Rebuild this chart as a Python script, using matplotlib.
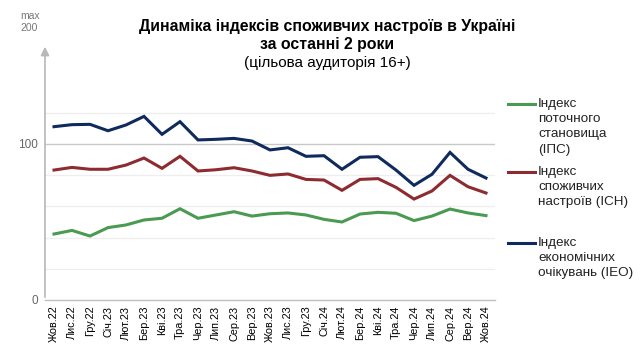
import matplotlib
matplotlib.use("Agg")
import matplotlib.pyplot as plt
from matplotlib.patches import FancyArrowPatch

months = ["Жов.22", "Лис.22", "Гру.22", "Січ.23", "Лют.23", "Бер.23", "Кві.23", "Тра.23",
          "Чер.23", "Лип.23", "Сер.23", "Вер.23", "Жов.23", "Лис.23", "Гру.23", "Січ.24",
          "Лют.24", "Бер.24", "Кві.24", "Тра.24", "Чер.24", "Лип.24", "Сер.24", "Вер.24", "Жов.24"]

ips = [42.3, 44.6, 41.0, 46.4, 48.1, 51.3, 52.4, 58.5, 52.4, 54.5, 56.6, 53.8, 55.3, 55.8,
       54.5, 51.7, 50.0, 55.1, 56.2, 55.6, 50.9, 53.8, 58.3, 55.8, 54.1]
ich = [83.3, 85.0, 83.8, 83.8, 86.5, 91.0, 84.4, 92.1, 82.7, 83.5, 84.8, 82.7, 79.9, 80.8,
       77.3, 76.9, 70.3, 77.3, 77.8, 72.2, 64.7, 69.9, 79.9, 72.6, 68.6]
ieo = [111.1, 112.4, 112.6, 108.5, 112.2, 117.7, 106.2, 114.3, 102.6, 103.0, 103.6, 101.9,
       96.2, 97.6, 92.1, 92.5, 83.8, 91.5, 91.9, 83.3, 73.5, 80.6, 94.6, 83.8, 78.2]

series_labels = ["Індекс\nпоточного\nстановища\n(ІПС)",
                 "Індекс\nспоживчих\nнастроїв (ІСН)",
                 "Індекс\nекономічних\nочікувань (ІЕО)"]
colors = ["#4a9a52", "#8e2b30", "#0f2a5c"]

plt.rcParams['font.family'] = ['Liberation Sans', 'DejaVu Sans']

fig = plt.figure(figsize=(6.4, 3.64), dpi=100)
W, H = 640, 364
left, right, bottom, top = 45, 495, 300, 47
ax = fig.add_axes([left / W, 1 - bottom / H, (right - left) / W, (bottom - top) / H])

x = list(range(len(months)))
ymax = (bottom - top) / 1.56
ax.set_ylim(0, ymax)
ax.set_xlim(-0.5, 24.5)

for g in [20, 40, 60, 80, 120]:
    ax.axhline(g, color="#eeeeee", lw=0.9, zorder=0)
ax.axhline(100, color="#c8c8c8", lw=1.0, zorder=0)

for vals, c in zip([ieo, ich, ips], [colors[2], colors[1], colors[0]]):
    ax.plot(x, vals, color=c, lw=2.2, solid_joinstyle="miter", zorder=3)

for s in ["top", "right", "left"]:
    ax.spines[s].set_visible(False)
ax.spines["bottom"].set_color("#c0c0c0")
ax.spines["bottom"].set_linewidth(1.0)

ax.set_yticks([0, 100])
ax.set_yticklabels(["0", "100"], color="#666666", fontsize=8.5)
ax.tick_params(axis="y", length=0, pad=5)
ax.set_xticks(x)
ax.set_xticklabels(months, rotation=90, fontsize=7.8)
ax.tick_params(axis="x", length=0, pad=4)

# y axis with arrow
arrow = FancyArrowPatch((left / W, 1 - bottom / H), (left / W, 1 - 44 / H),
                        transform=fig.transFigure, arrowstyle="-|>,head_length=0.5,head_width=0.25",
                        color="#b8b8b8", lw=1.2, mutation_scale=10)
fig.add_artist(arrow)
fig.text(20 / W, 1 - 11 / H, "max\n200", color="#777777", fontsize=7.5, va="top", ha="left",
         linespacing=1.3)

# title
fig.text(327 / W, 1 - 27 / H, "Динаміка індексів споживчих настроїв в Україні", fontsize=11.4,
         fontweight="bold", ha="center", va="center")
fig.text(327 / W, 1 - 45 / H, "за останні 2 роки", fontsize=11.4,
         fontweight="bold", ha="center", va="center")
fig.text(327 / W, 1 - 63 / H, "(цільова аудиторія 16+)", fontsize=11,
         ha="center", va="center")

# legend
leg_y = [104, 172, 243]
for lab, c, yy in zip(series_labels, colors, leg_y):
    fig.add_artist(plt.Line2D([508 / W, 535 / W], [1 - yy / H, 1 - yy / H],
                              color=c, lw=2.2, transform=fig.transFigure))
    fig.text(538 / W, 1 - (yy - 6) / H, lab, fontsize=9.7, va="top", ha="left",
             linespacing=1.36, color="#222222")

fig.savefig("out.png", dpi=100)
